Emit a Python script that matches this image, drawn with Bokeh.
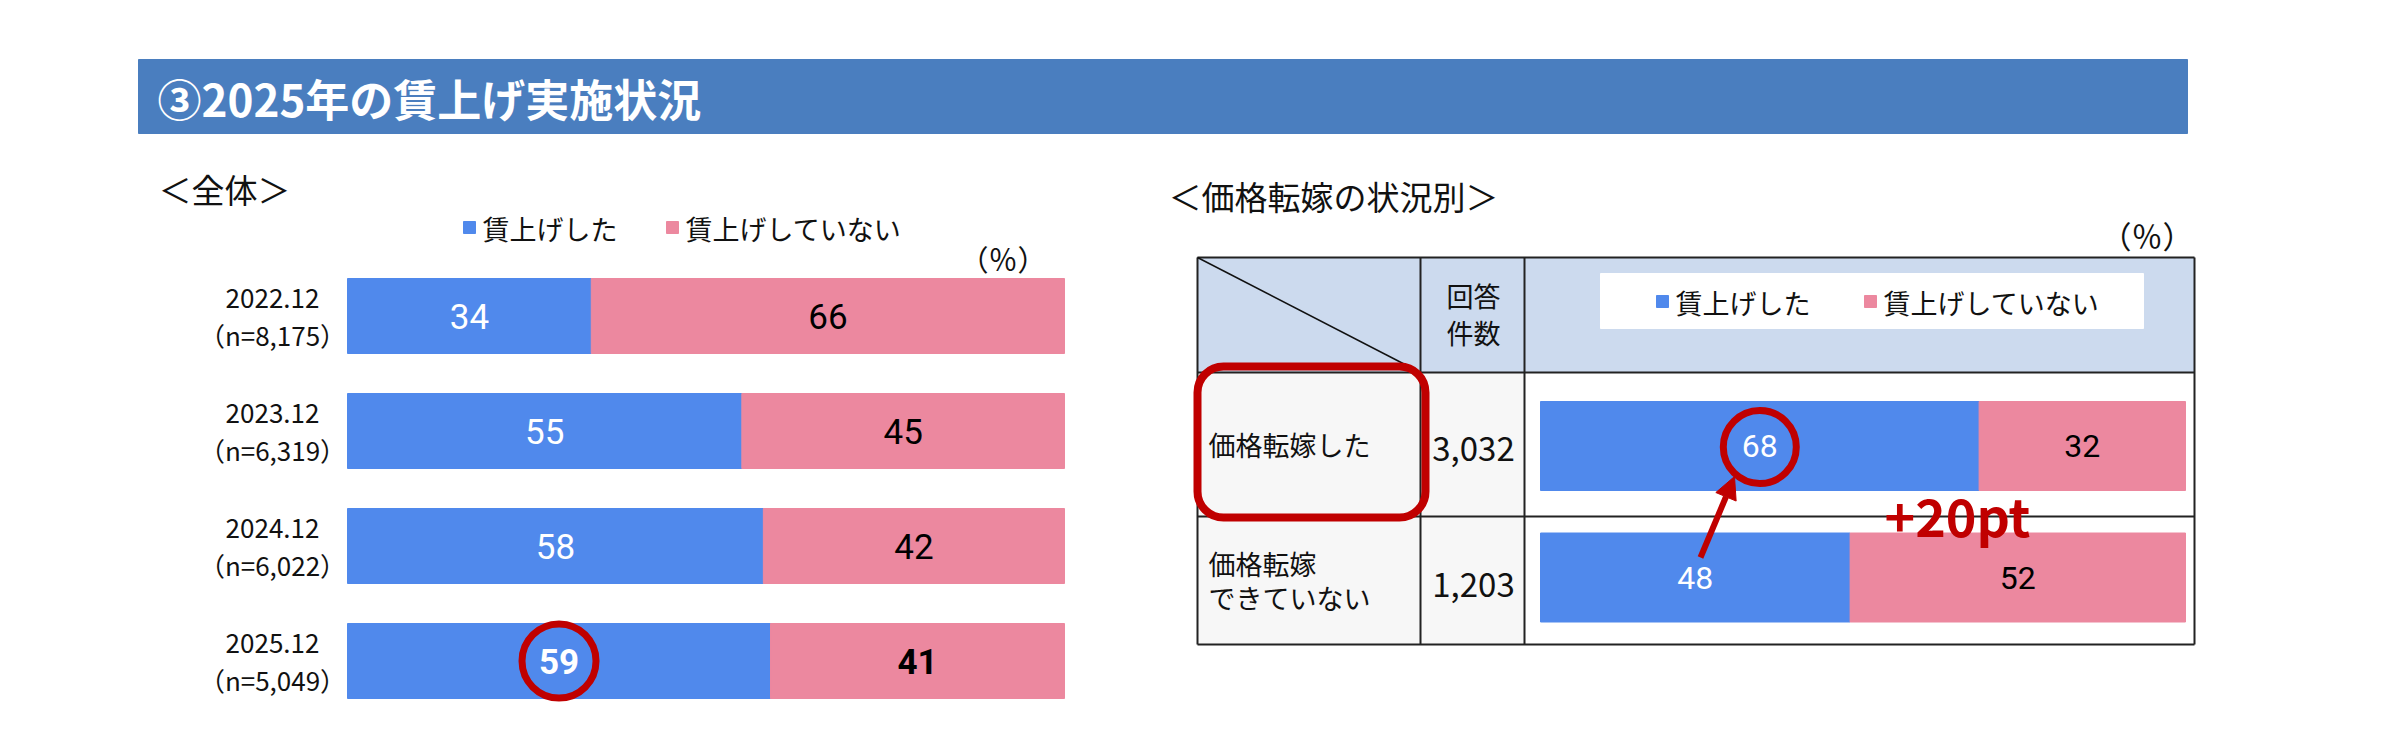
from bokeh.core.properties import value
from bokeh.embed import file_html
from bokeh.models import Arrow, BoxAnnotation, ColumnDataSource, NormalHead, Range1d
from bokeh.plotting import figure
from bokeh.resources import INLINE

# --- data ---------------------------------------------------------------
title = "③2025年の賃上げ実施状況"
series_names = ["賃上げした", "賃上げしていない"]

# 全体
periods = ["2022.12", "2023.12", "2024.12", "2025.12"]
sample_sizes = ["8,175", "6,319", "6,022", "5,049"]
raised = [34, 55, 58, 59]
not_raised = [66, 45, 42, 41]

# 価格転嫁の状況別
pass_groups = ["価格転嫁した", "価格転嫁\nできていない"]
pass_counts = ["3,032", "1,203"]
pass_raised = [68, 48]
pass_not_raised = [32, 52]

# --- style --------------------------------------------------------------
BLUE = "#5089EC"
PINK = "#EC889F"
RED = "#C00000"
BANNER = "#4A7EBF"
HEAD = "#CCDAEE"
CELL = "#F7F7F7"
JP = value("Noto Sans CJK JP")
NUM = value("Roboto")

W, H = 2376, 726
X0, Y0 = 0, 0  # data units == canvas pixels

p = figure(
    width=W, height=H,
    x_range=Range1d(X0, X0 + W), y_range=Range1d(Y0 + H, Y0),
    x_axis_type=None, y_axis_type=None,
    output_backend="svg", toolbar_location=None, min_border=0,
)
p.grid.visible = False
p.outline_line_color = None


def pct_range(px0, px1):
    # percent scale whose 0..100 lands on pixels px0..px1
    per_px = 100 / (px1 - px0)
    start = -(px0 - X0) * per_px
    return Range1d(start, start + W * per_px)


p.extra_x_ranges = {"left": pct_range(347, 1064), "right": pct_range(1540, 2185)}

# banner
p.quad(left=138, right=2187, top=59, bottom=133, color=BANNER)
p.text(x=[157], y=[97], text=[title], text_font=JP, text_font_style="bold",
       text_font_size="44px", text_color="white", text_baseline="middle")


def legend(x_blue, x_pink, y):
    p.scatter(x=[x_blue, x_pink], y=[y, y], marker="square", size=12,
              color=[BLUE, PINK])
    p.text(x=[x_blue + 13, x_pink + 13], y=[y + 1, y + 1], text=series_names,
           text_font=JP, text_font_size="27px", text_color="#111",
           text_baseline="middle")


# --- left: 全体 -----------------------------------------------------------
p.text(x=[158], y=[188], text=["＜全体＞"], text_font=JP, text_font_size="33px",
       text_color="#111", text_baseline="middle")
legend(469, 672, 227)
p.text(x=[1046], y=[257], text=["（％）"], text_font=JP, text_font_size="29px",
       text_color="#111", text_baseline="middle", text_align="right")

ys = [315.5 + 115 * i for i in range(len(periods))]
emph = len(periods) - 1
left_src = ColumnDataSource(dict(
    y=ys,
    raised=raised,
    total=[a + b for a, b in zip(raised, not_raised)],
    mid_a=[a / 2 for a in raised],
    mid_b=[a + b / 2 for a, b in zip(raised, not_raised)],
    lab_a=[str(v) for v in raised],
    lab_b=[str(v) for v in not_raised],
    style=["bold" if i == emph else "normal" for i in range(len(periods))],
    period=periods,
    n=["（n=%s）" % s for s in sample_sizes],
))
p.hbar(y="y", left=0, right="raised", height=75, color=BLUE,
       source=left_src, x_range_name="left")
p.hbar(y="y", left="raised", right="total", height=75, color=PINK,
       source=left_src, x_range_name="left")
p.text(x="mid_a", y="y", text="lab_a", source=left_src, x_range_name="left",
       text_font=NUM, text_font_size="35px", text_font_style="style",
       text_color="white", text_align="center", text_baseline="middle")
p.text(x="mid_b", y="y", text="lab_b", source=left_src, x_range_name="left",
       text_font=NUM, text_font_size="35px", text_font_style="style",
       text_color="black", text_align="center", text_baseline="middle")
p.text(x=272, y=[y - 17.5 for y in ys], text=periods, text_font=JP,
       text_font_size="26px", text_color="#111", text_align="center",
       text_baseline="middle")
p.text(x=272, y=[y + 18.5 for y in ys], text=left_src.data["n"], text_font=JP,
       text_font_size="26px", text_color="#111", text_align="center",
       text_baseline="middle")
p.scatter(x=[raised[emph] / 2], y=[ys[emph]], marker="circle", size=74,
          fill_alpha=0, line_color=RED, line_width=7, x_range_name="left")

# --- right: 価格転嫁の状況別 ---------------------------------------------------
p.text(x=[1168], y=[195], text=["＜価格転嫁の状況別＞"], text_font=JP,
       text_font_size="33px", text_color="#111", text_baseline="middle")
p.text(x=[2193], y=[234], text=["（％）"], text_font=JP, text_font_size="31px",
       text_color="#111", text_baseline="middle", text_align="right")

TL, TR, TT = 1197, 2194, 257
cols = [TL, 1420, 1524, TR]
rows = [TT, 372, 516, 644]
p.quad(left=TL, right=TR, top=rows[0], bottom=rows[1], color=HEAD)
p.quad(left=TL, right=cols[2], top=rows[1], bottom=rows[3], color=CELL)
p.quad(left=1600, right=2143, top=273, bottom=328, color="white")
legend(1662, 1870, 301)
p.segment(x0=[TL] * 4, x1=[TR] * 4, y0=rows, y1=rows, line_color="#222",
          line_width=2)
p.segment(x0=cols, x1=cols, y0=[TT] * 4, y1=[rows[3]] * 4, line_color="#222",
          line_width=2)
p.segment(x0=[TL], y0=[TT], x1=[cols[1]], y1=[rows[1]], line_color="#111",
          line_width=1.5)
p.text(x=1473, y=[295, 332], text=["回答", "件数"], text_font=JP,
       text_font_size="27px", text_color="#111", text_align="center",
       text_baseline="middle")

row_c = [(rows[i] + rows[i + 1]) / 2 for i in (1, 2)]
bar_y = [445.5, 577]
right_src = ColumnDataSource(dict(
    y=bar_y,
    raised=pass_raised,
    total=[a + b for a, b in zip(pass_raised, pass_not_raised)],
    mid_a=[a / 2 for a in pass_raised],
    mid_b=[a + b / 2 for a, b in zip(pass_raised, pass_not_raised)],
    lab_a=[str(v) for v in pass_raised],
    lab_b=[str(v) for v in pass_not_raised],
))
p.hbar(y="y", left=0, right="raised", height=89, color=BLUE,
       source=right_src, x_range_name="right")
p.hbar(y="y", left="raised", right="total", height=89, color=PINK,
       source=right_src, x_range_name="right")
p.text(x="mid_a", y="y", text="lab_a", source=right_src, x_range_name="right",
       text_font=NUM, text_font_size="32px", text_color="white",
       text_align="center", text_baseline="middle")
p.text(x="mid_b", y="y", text="lab_b", source=right_src, x_range_name="right",
       text_font=NUM, text_font_size="32px", text_color="black",
       text_align="center", text_baseline="middle")

for yc, grp, cnt in zip(row_c, pass_groups, pass_counts):
    lines = grp.split("\n")
    ly = [yc + 34 * (k - (len(lines) - 1) / 2) for k in range(len(lines))]
    p.text(x=1208, y=ly, text=lines, text_font=JP, text_font_size="27px",
           text_color="#111", text_baseline="middle")
    p.text(x=[1473], y=[yc + 4], text=[cnt], text_font=JP,
           text_font_size="33px", text_color="#111", text_align="center",
           text_baseline="middle")

# highlights
p.add_layout(BoxAnnotation(left=1197, right=1425, top=366, bottom=517,
                           fill_alpha=0, line_color=RED, line_alpha=1,
                           line_width=8, border_radius=26))
p.scatter(x=[pass_raised[0] / 2], y=[bar_y[0] + 1], marker="circle", size=73,
          fill_alpha=0, line_color=RED, line_width=7, x_range_name="right")
p.add_layout(Arrow(x_start=1700, y_start=557, x_end=1734, y_end=476,
                   line_color=RED, line_width=6,
                   end=NormalHead(size=22, fill_color=RED, line_color=RED)))
diff = pass_raised[0] - pass_raised[1]
p.text(x=[1884], y=[514], text=["+%dpt" % diff], text_font=JP,
       text_font_style="bold", text_font_size="52px", text_color=RED,
       text_baseline="middle")

open("out.html", "w").write(file_html(p, INLINE))
